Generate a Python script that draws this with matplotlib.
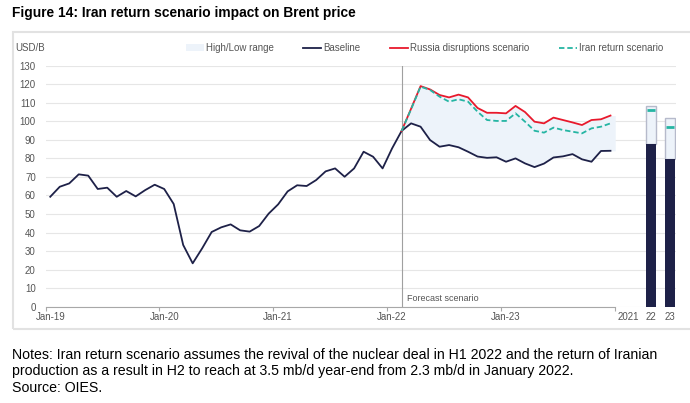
import matplotlib
matplotlib.use('Agg')
import matplotlib.pyplot as plt
from matplotlib.patches import Patch, Rectangle
from matplotlib.lines import Line2D
import numpy as np

plt.rcParams['font.family'] = ['Liberation Sans', 'DejaVu Sans']

# monthly Brent, Jan-19 .. Dec-23 (USD/B)
baseline = [59.3, 64.7, 66.5, 71.4, 70.7, 63.5, 64.2, 59.3, 62.4, 59.5, 62.9, 65.8,
            63.5, 55.4, 33.3, 23.4, 31.5, 40.3, 42.8, 44.4, 41.2, 40.5, 43.5, 50.2,
            55.2, 62.2, 65.5, 65.1, 68.3, 73.0, 74.6, 70.1, 74.6, 83.6, 80.9, 74.6,
            85.4, 94.8, 98.9, 97.1, 89.9, 86.3, 87.2, 86.0, 83.6, 81.0, 80.3, 80.6,
            78.2, 80.0, 77.3, 75.3, 77.2, 80.5, 81.1, 82.3, 79.5, 78.2, 84.0, 84.1]
# scenarios start at Feb-22
russia = [94.8, 106.8, 119.0, 117.2, 114.2, 112.9, 114.4, 112.9, 107.2, 104.6, 104.6, 104.3,
          108.3, 105.0, 99.8, 98.9, 102.0, 100.7, 99.4, 98.0, 100.7, 101.1, 103.1]
iran = [94.8, 106.5, 118.7, 116.9, 113.3, 110.6, 111.9, 110.6, 105.2, 100.7, 100.2, 100.2,
        104.3, 99.8, 94.9, 93.9, 96.6, 95.3, 94.4, 93.5, 96.2, 97.1, 98.9]
month_labels = ['Jan-19', 'Jan-20', 'Jan-21', 'Jan-22', 'Jan-23']

# annual averages
year_labels = ['2021', '22', '23']
year_base = [np.nan, 87.8, 79.7]
year_high = [np.nan, 108.3, 101.8]
year_iran = [np.nan, 106.1, 97.1]

navy = '#1e2148'
red = '#e8192c'
teal = '#25b5a3'
fillc = '#edf3fa'
txt = '#555555'

fig = plt.figure(figsize=(6.9, 4.03), dpi=100)
ax = fig.add_axes([45.5/690, 1-306.7/403, (676-45.5)/690, (306.7-65.7)/403])

x = np.arange(len(baseline)) + 0.5
start = len(baseline) - len(russia)
xs = x[start:]

# high/low range, stretched to the edge of the last category
xf = np.append(xs, xs[-1] + 0.5)
lo = np.append(baseline[start:], baseline[-1])
hi = np.append(russia, russia[-1])
ax.fill_between(xf, lo, hi, color=fillc, lw=0, zorder=1)

ax.plot(x, baseline, color=navy, lw=1.3, zorder=3)
ax.plot(xs, russia, color=red, lw=1.3, zorder=4)
ax.plot(xs, iran, color=teal, lw=1.3, ls=(0, (3, 1.6)), zorder=5)

ax.axvline(x[start], color='#a0a0a0', lw=0.8, zorder=2)
ax.text(x[start] + 0.6, 2, 'Forecast scenario', fontsize=6.5, color=txt, va='bottom')

# annual bars
year_pos = np.array([61.4, 63.8, 65.8])
bw = 1.05
base = np.array(year_base)
high = np.array(year_high)
ax.bar(year_pos, high - base, bottom=base, width=bw, color=fillc,
       edgecolor='#b6bacb', lw=1, zorder=3)
ax.bar(year_pos, base, width=bw, color=navy, lw=0, zorder=4)
for xp, v in zip(year_pos, year_iran):
    ax.plot([xp - bw/2 + 0.1, xp + bw/2 - 0.1], [v, v], color=teal, lw=2, zorder=5,
            solid_capstyle='butt')

ax.set_ylim(0, 130)
ax.set_xlim(0, 66.4)
ax.set_yticks(np.arange(0, 131, 10))
ax.grid(axis='y', color='#e6e6e6', lw=0.8)
ax.set_axisbelow(True)
ax.tick_params(axis='y', length=0, pad=7, labelsize=7, labelcolor=txt)

ax.set_xticks(np.arange(0, 61, 12))
ax.set_xticklabels([])
ax.tick_params(axis='x', which='major', length=3, color='#a8a8a8')
lab_pos = list(np.arange(len(month_labels)) * 12 + 0.5) + list(year_pos)
ax.set_xticks(lab_pos, minor=True)
ax.set_xticklabels(month_labels + year_labels, minor=True)
ax.tick_params(axis='x', which='minor', length=0, pad=4, labelsize=7, labelcolor=txt)

for s in ['top', 'right', 'left']:
    ax.spines[s].set_visible(False)
ax.spines['bottom'].set_color('#a8a8a8')
ax.spines['bottom'].set_bounds(0, 60)

handles = [Patch(facecolor=fillc, edgecolor='none'),
           Line2D([], [], color=navy, lw=1.3),
           Line2D([], [], color=red, lw=1.3),
           Line2D([], [], color=teal, lw=1.3, ls=(0, (3, 1.6)))]
names = ['High/Low range', 'Baseline', 'Russia disruptions scenario', 'Iran return scenario']
leg = fig.legend(handles, names, loc='center', bbox_to_anchor=(0.615, 1-48/403), ncol=4,
                 frameon=False, fontsize=7, handlelength=1.9, handletextpad=0.2,
                 columnspacing=3.0, handleheight=0.6)
for t in leg.get_texts():
    t.set_color(txt)

fig.text(15/690, 1-48/403, 'USD/B', fontsize=7, color=txt, va='center')

fig.patches.append(Rectangle((12.7/690, 1-329/403), 1.1, (329-31.7)/403, transform=fig.transFigure,
                             fill=False, edgecolor='#e2e2e2', lw=1.5))

fig.text(12.5/690, 1-17.3/403, 'Figure 14: Iran return scenario impact on Brent price',
         fontsize=9.9, fontweight='bold', va='baseline')

notes = ['Notes: Iran return scenario assumes the revival of the nuclear deal in H1 2022 and the return of Iranian',
         'production as a result in H2 to reach at 3.5 mb/d year-end from 2.3 mb/d in January 2022.',
         'Source: OIES.']
for i, line in enumerate(notes):
    fig.text(12/690, 1-(355 + 16.5*i)/403, line, fontsize=10.2, va='center')

fig.savefig('out.png', dpi=100)
